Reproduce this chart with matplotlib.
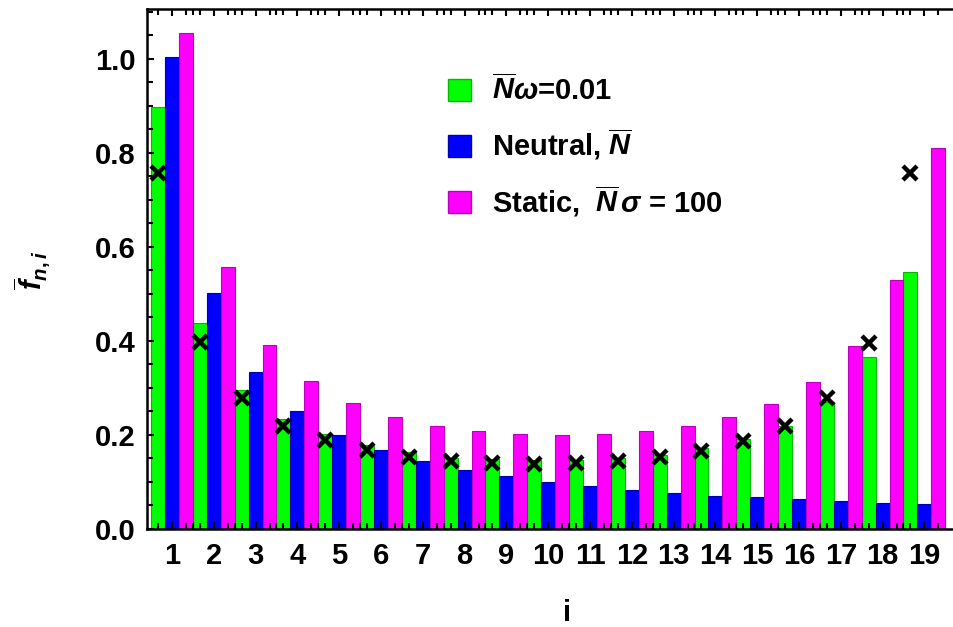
import matplotlib
matplotlib.use("Agg")
import matplotlib.pyplot as plt
import numpy as np
from matplotlib.patches import Patch
from matplotlib.ticker import FixedLocator

plt.rcParams['font.family'] = ['Liberation Sans', 'DejaVu Sans']
plt.rcParams['font.weight'] = 'bold'
plt.rcParams['mathtext.fontset'] = 'custom'
plt.rcParams['mathtext.it'] = 'Liberation Sans:italic:bold'
plt.rcParams['mathtext.rm'] = 'Liberation Sans:bold'
plt.rcParams['mathtext.bf'] = 'Liberation Sans:bold'

# data
sites = list(range(1, 20))
green_vals = [0.897, 0.438, 0.296, 0.233, 0.202, 0.178, 0.163, 0.151, 0.149, 0.147,
              0.147, 0.151, 0.158, 0.173, 0.192, 0.220, 0.271, 0.365, 0.547]
blue_vals = [1.004, 0.502, 0.335, 0.250, 0.201, 0.168, 0.144, 0.126, 0.112, 0.100,
             0.092, 0.083, 0.076, 0.070, 0.0675, 0.063, 0.060, 0.055, 0.053]
magenta_vals = [1.055, 0.557, 0.392, 0.314, 0.268, 0.238, 0.220, 0.209, 0.202, 0.200,
                0.202, 0.209, 0.219, 0.238, 0.266, 0.312, 0.389, 0.529, 0.810]
cross_vals = [0.757, 0.397, 0.278, 0.220, 0.189, 0.167, 0.154, 0.145, 0.141, 0.139,
              0.141, 0.145, 0.154, 0.165, 0.188, 0.220, 0.279, 0.396, 0.757]
labels = [r'$\overline{N}\omega$=0.01', r'Neutral, $\overline{N}$',
          r'Static,  $\overline{N}\,\sigma$ = 100']

AX_L, AX_R, AX_B, AX_T = 147, 990, 529, 8.6
fig = plt.figure(figsize=(9.54, 6.27), dpi=100)
ax = fig.add_axes([AX_L/954, 1-AX_B/627, (AX_R-AX_L)/954, (AX_B-AX_T)/627])

x = np.array(sites, dtype=float)
w = 1/3
ax.bar(x - w, green_vals, width=w, color='#00ff00', edgecolor='#00bb00', linewidth=0.8)
ax.bar(x, blue_vals, width=w, color='#0000ff', edgecolor='#0000aa', linewidth=0.8)
ax.bar(x + w, magenta_vals, width=w, color='#ff00ff', edgecolor='#bb00bb', linewidth=0.8)
ax.plot(x - w, cross_vals, linestyle='none', marker='x', color='black',
        markersize=10, markeredgewidth=3.2, zorder=5)

ax.set_xlim(1 - (172 - AX_L)/41.8, 1 + (AX_R - 172)/41.8)
ax.set_ylim(0, 1.107)

FS = 21
ax.set_xticks(sites)
ax.set_xticklabels([str(s) for s in sites], fontsize=FS, fontweight='bold')
minor_x = sorted(list(x - w) + list(x + w) + list(x[:-1] + 0.5))
ax.xaxis.set_minor_locator(FixedLocator(minor_x))
ax.set_yticks([0.0, 0.2, 0.4, 0.6, 0.8, 1.0])
ax.set_yticklabels(['0.0', '0.2', '0.4', '0.6', '0.8', '1.0'], fontsize=FS, fontweight='bold')
ax.yaxis.set_minor_locator(FixedLocator(np.arange(0, 1.11, 0.05)))

ax.tick_params(axis='both', which='major', direction='in', length=5, width=1.5,
               top=True, right=False, pad=8)
ax.tick_params(axis='both', which='minor', direction='in', length=4, width=1.5,
               top=True, right=False)
ax.tick_params(axis='x', which='major', pad=9)
for s in ['left', 'bottom', 'top', 'right']:
    ax.spines[s].set_linewidth(1.8)

ax.set_xlabel('i', fontsize=FS, fontweight='bold')
ax.xaxis.set_label_coords((567 - AX_L)/(AX_R - AX_L), -(599 - AX_B)/(AX_B - AX_T))
ax.set_ylabel(r'$\overline{f}_{n,i}$', fontsize=FS)
ax.yaxis.set_label_coords(-(AX_L - 52)/(AX_R - AX_L), (AX_B - 270)/(AX_B - AX_T))

handles = [Patch(facecolor='#00ff00', edgecolor='#00bb00'),
           Patch(facecolor='#0000ff', edgecolor='#0000aa'),
           Patch(facecolor='#ff00ff', edgecolor='#bb00bb')]
leg = ax.legend(handles, labels, loc='upper left',
                bbox_to_anchor=((448 - AX_L)/(AX_R - AX_L), (AX_B - 75)/(AX_B - AX_T)),
                frameon=False, fontsize=FS, handlelength=0.78, handleheight=0.78,
                labelspacing=0.72, handletextpad=0.72, borderpad=0, borderaxespad=0)

fig.savefig('out.png', dpi=100)
